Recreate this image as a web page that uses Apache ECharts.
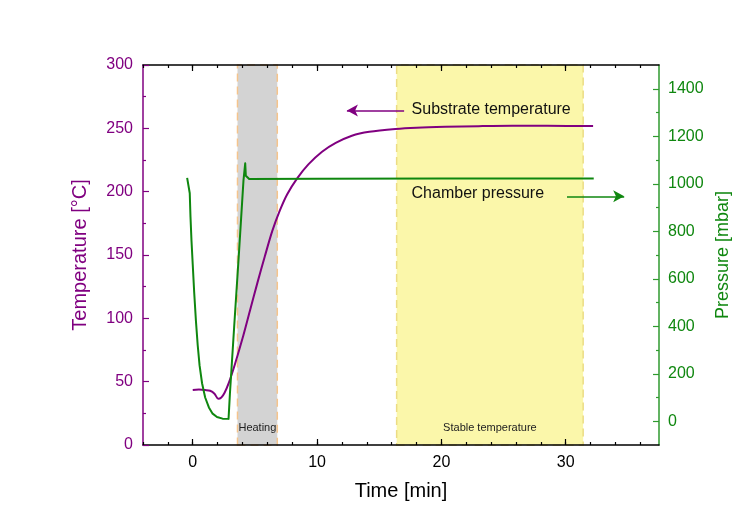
<!DOCTYPE html>
<html><head><meta charset="utf-8">
<script src="https://cdn.jsdelivr.net/npm/echarts@6/dist/echarts.min.js"></script>
<style>html,body{margin:0;padding:0;background:#fff}#c{width:752px;height:520px}</style>
</head><body><div id="c"></div>
<script>
// ---- data ----
const tempTime = [0.0,0.5,1.0,1.4,1.75,2.05,2.3,2.55,2.9,3.4,4.0,4.6,5.2,5.8,6.4,7.0,7.6,8.4,9.3,10.4,11.5,12.8,14.2,16.3,18.0,20.3,23.0,25.7,28.5,32.2];
const tempValues = [43.5,43.8,43.4,42.8,40.5,36.5,37.5,41,49,64,84,106,128,149,169,185,198,210.5,221.5,231.5,238.5,244.2,247.3,249.5,250.5,251.2,251.7,252,252,251.8];
const presTime = [-0.45,-0.3,-0.24,-0.18,-0.1,0.0,0.12,0.26,0.4,0.55,0.75,1.0,1.3,1.6,1.95,2.4,2.88,2.99,3.33,3.73,4.08,4.22,4.27,4.54,10,20,32.25];
const presValues = [1025,1020,960,860,760,660,540,420,320,235,160,100,58,32,18,11,10,116,396,719,1013,1086,1034,1020,1021,1022,1022];
const xLabelValues = [0,10,20,30];
const xMinorValues = [-4,-2,0,2,4,6,8,10,12,14,16,18,20,22,24,26,28,30,32,34,36];
const rightLabelValues = [0,200,400,600,800,1000,1200,1400];
const rightMinorValues = [100,300,500,700,900,1100,1300];
const heatingBand = [3.6, 6.8];
const stableBand = [16.4, 31.4];
const bandNames = ['Heating','Stable temperature'];
const tempArrow = [[12.4,264],[17.0,264]];
const presArrow = [[30.1,947],[34.7,947]];
const tempNote = {text:'Substrate temperature', pos:[17.6,264.5]};
const presNote = {text:'Chamber pressure', pos:[17.6,198.7]};

// ---- styles ----
const PURPLE = '#800080', GREEN = '#0f870f', AXGREEN = '#2f9a2f';
const FONT = 'Liberation Sans, Arial, sans-serif';
const XMIN = -4, XMAX = 37.5;

function zip(a,b){return a.map((v,i)=>[v,b[i]]);}

const chart = echarts.init(document.getElementById('c'), null, {renderer:'canvas'});
const baseX = {type:'value', min:XMIN, max:XMAX, splitLine:{show:false}, z:5};
const option = {
  animation:false,
  backgroundColor:'#ffffff',
  textStyle:{fontFamily:FONT},
  grid:{left:143, right:93, top:65, bottom:75},
  xAxis:[
    Object.assign({}, baseX, {position:'bottom',
      axisLine:{show:true,onZero:false,lineStyle:{color:'#000',width:1.5}},
      axisTick:{show:true,inside:true,length:3,customValues:xMinorValues,lineStyle:{color:'#000',width:1.2}},
      axisLabel:{show:true,customValues:xLabelValues,color:'#000',fontSize:16,margin:10,fontFamily:FONT,formatter:v=>String(v)},
      name:'Time [min]', nameLocation:'middle', nameGap:36,
      nameTextStyle:{color:'#000',fontSize:20,fontFamily:FONT}}),
    Object.assign({}, baseX, {position:'bottom',
      axisLine:{show:false,onZero:false},
      axisTick:{show:true,inside:true,length:6,customValues:xLabelValues,lineStyle:{color:'#000',width:1.2}},
      axisLabel:{show:false}}),
    Object.assign({}, baseX, {position:'top',
      axisLine:{show:true,onZero:false,lineStyle:{color:'#000',width:1.5}},
      axisTick:{show:true,inside:true,length:3,customValues:xMinorValues,lineStyle:{color:'#000',width:1.2}},
      axisLabel:{show:false}}),
    Object.assign({}, baseX, {position:'top',
      axisLine:{show:false,onZero:false},
      axisTick:{show:true,inside:true,length:6,customValues:xLabelValues,lineStyle:{color:'#000',width:1.2}},
      axisLabel:{show:false}})
  ],
  yAxis:[
    {type:'value', position:'left', min:0, max:300, interval:50, z:5,
      axisLine:{show:true,onZero:false,lineStyle:{color:PURPLE,width:1.5}},
      axisTick:{show:true,inside:true,length:6,lineStyle:{color:PURPLE,width:1.2}},
      minorTick:{show:true,splitNumber:2,length:3,lineStyle:{color:PURPLE,width:1.2}},
      axisLabel:{color:PURPLE,fontSize:16,margin:10,fontFamily:FONT,formatter:v=>String(v)},
      splitLine:{show:false},
      name:'Temperature [°C]', nameLocation:'middle', nameGap:53,
      nameTextStyle:{color:PURPLE,fontSize:20,fontFamily:FONT}},
    {type:'value', position:'right', min:-100, max:1500, z:5,
      axisLine:{show:true,onZero:false,lineStyle:{color:AXGREEN,width:1.5}},
      axisTick:{show:true,inside:true,length:6,customValues:rightLabelValues,lineStyle:{color:AXGREEN,width:1.2}},
      axisLabel:{show:true,customValues:rightLabelValues,color:GREEN,fontSize:16,margin:9,fontFamily:FONT,formatter:v=>String(v)},
      splitLine:{show:false},
      name:'Pressure [mbar]', nameLocation:'middle', nameGap:55,
      nameTextStyle:{color:GREEN,fontSize:18,fontFamily:FONT}},
    {type:'value', position:'right', min:-100, max:1500, z:5,
      axisLine:{show:false,onZero:false},
      axisTick:{show:true,inside:true,length:3,customValues:rightMinorValues,lineStyle:{color:AXGREEN,width:1.2}},
      axisLabel:{show:false}, splitLine:{show:false}}
  ],
  series:[
    {type:'line', name:'bands', data:[], xAxisIndex:0, yAxisIndex:0, z:1, silent:true,
      markArea:{silent:true, data:[
        [{xAxis:heatingBand[0], name:bandNames[0],
          itemStyle:{color:'#d3d3d3',borderColor:'#f5c48c',borderWidth:1.5,borderType:[8,5]},
          label:{show:true,position:'insideBottom',distance:12,color:'#222',fontSize:11,fontFamily:FONT}},
         {xAxis:heatingBand[1]}],
        [{xAxis:stableBand[0], name:bandNames[1],
          itemStyle:{color:'#fbf7aa',borderColor:'#ecdc84',borderWidth:1.5,borderType:[8,5]},
          label:{show:true,position:'insideBottom',distance:12,color:'#222',fontSize:11,fontFamily:FONT}},
         {xAxis:stableBand[1]}]
      ]}},
    {type:'line', name:'Substrate temperature', xAxisIndex:0, yAxisIndex:0, z:6,
      data:zip(tempTime,tempValues), showSymbol:false, smooth:0.3,
      lineStyle:{color:PURPLE,width:2}, itemStyle:{color:PURPLE},
      markLine:{silent:true, symbol:['arrow','none'], symbolSize:[9,11], label:{show:false},
        lineStyle:{color:PURPLE,width:1.5,type:'solid'},
        data:[[{coord:tempArrow[0]},{coord:tempArrow[1]}]]}},
    {type:'line', name:'Chamber pressure', xAxisIndex:0, yAxisIndex:1, z:6,
      data:zip(presTime,presValues), showSymbol:false, smooth:false,
      lineStyle:{color:GREEN,width:2,join:'round'}, itemStyle:{color:GREEN},
      markLine:{silent:true, symbol:['none','arrow'], symbolSize:[9,11], label:{show:false},
        lineStyle:{color:GREEN,width:1.5,type:'solid'},
        data:[[{coord:presArrow[0]},{coord:presArrow[1]}]]}}
  ]
};
chart.setOption(option);
function px(p){return chart.convertToPixel({xAxisIndex:0,yAxisIndex:0}, p);}
const p1 = px(tempNote.pos), p2 = px(presNote.pos);
chart.setOption({graphic:[
  {type:'text', x:p1[0], y:p1[1], z:20, style:{text:tempNote.text, fill:'#111', font:'16px '+FONT, textVerticalAlign:'middle'}},
  {type:'text', x:p2[0], y:p2[1], z:20, style:{text:presNote.text, fill:'#111', font:'16px '+FONT, textVerticalAlign:'middle'}}
]});
</script></body></html>
